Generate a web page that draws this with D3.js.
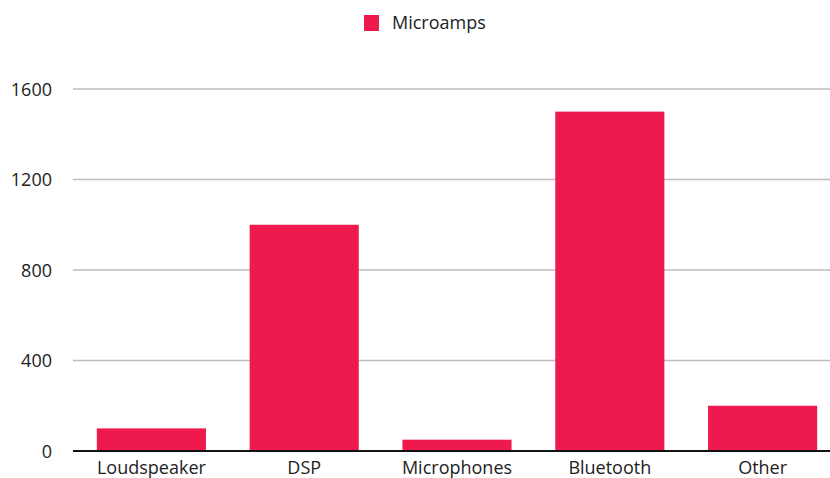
<!DOCTYPE html>
<html><head><meta charset="utf-8">
<script src="https://cdn.jsdelivr.net/npm/d3@7"></script>
<style>body{margin:0;background:#fff}svg{display:block;font-family:"Open Sans",sans-serif}</style>
</head><body>
<script>
const categories = ["Loudspeaker","DSP","Microphones","Bluetooth","Other"];
const values = [100,1000,50,1500,200];
const seriesName = "Microamps";
const yTicks = [0,400,800,1200,1600];

const W=830,H=478;
const svg=d3.select("body").append("svg").attr("width",W).attr("height",H);
const color="#EE1A4D";
const y=d3.scaleLinear().domain([0,1600]).range([451,89]);
const x=d3.scaleBand().domain(categories).range([75,839]).paddingInner(0.286).paddingOuter(0.143);

const grid=svg.append("g");
yTicks.filter(t=>t>0).forEach(t=>{
  grid.append("line").attr("x1",73).attr("x2",W).attr("y1",y(t)).attr("y2",y(t))
    .attr("stroke","#bdbdbd").attr("stroke-width",1.5);
});
const yAxis=svg.append("g").attr("transform","translate(52,0)")
  .call(d3.axisLeft(y).tickValues(yTicks).tickSize(0).tickPadding(0).tickFormat(d3.format("d")));
yAxis.select(".domain").remove();
yAxis.selectAll("text").attr("font-size",18).attr("fill","#222").attr("font-family","'Open Sans',sans-serif").attr("dy","0.35em");

svg.append("g").selectAll("rect").data(categories).join("rect")
  .attr("x",d=>x(d)).attr("width",x.bandwidth())
  .attr("y",(d,i)=>y(values[i])).attr("height",(d,i)=>y(0)-y(values[i]))
  .attr("fill",color);

svg.append("line").attr("x1",73).attr("x2",W).attr("y1",y(0)).attr("y2",y(0)).attr("stroke","#111").attr("stroke-width",2);

const xAxis=svg.append("g").attr("transform",`translate(0,${y(0)})`)
  .call(d3.axisBottom(x).tickSize(0).tickPadding(0));
xAxis.select(".domain").remove();
xAxis.selectAll("text").attr("font-size",18).attr("fill","#222").attr("font-family","'Open Sans',sans-serif").attr("dy",0).attr("y",22.5);

const lg=svg.append("g");
lg.append("rect").attr("x",364).attr("y",15).attr("width",15).attr("height",16).attr("fill",color);
lg.append("text").attr("x",392).attr("y",29).attr("font-size",18).attr("fill","#222").text(seriesName);
</script>
</body></html>
